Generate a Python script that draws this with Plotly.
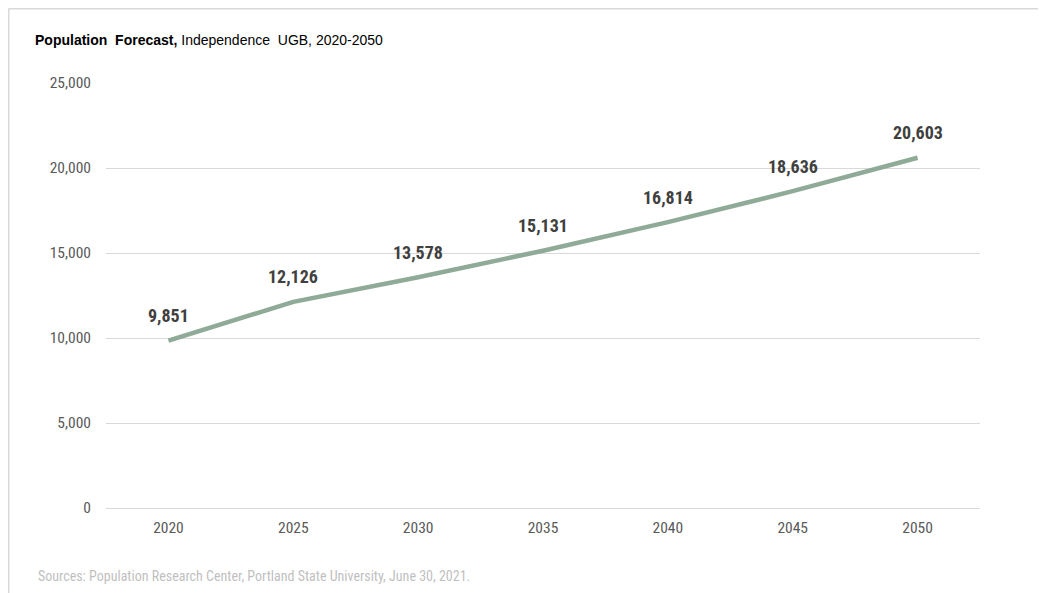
import plotly.graph_objects as go

years = [2020, 2025, 2030, 2035, 2040, 2045, 2050]
population = [9851, 12126, 13578, 15131, 16814, 18636, 20603]
y_ticks = [0, 5000, 10000, 15000, 20000, 25000]
y_tick_labels = ["0", "5,000", "10,000", "15,000", "20,000", "25,000"]

NARROW = "Liberation Sans Narrow, Arial Narrow, Roboto Condensed, Roboto, sans-serif"

# figure is placed 8px in from the page corner by the default body margin
W, H = 1038, 585
L, R, T, B = 98, 66, 75, 85
PW, PH = W - L - R, H - T - B


def px(x):
    return (x - L) / PW


def py(y):
    return (H - B - y) / PH


fig = go.Figure()
fig.add_trace(go.Scatter(
    x=years, y=population, mode="lines",
    line=dict(color="#8fab97", width=4.5),
    hoverinfo="skip", showlegend=False,
))

for xv, yv in zip(years, population):
    fig.add_annotation(
        x=xv, y=yv, text=f"<b>{yv:,}</b>", showarrow=False,
        yshift=25, font=dict(family=NARROW, size=18, color="#404040"),
    )

fig.update_xaxes(
    range=[2017.5, 2052.5], tickvals=years, ticktext=[str(y) for y in years],
    showgrid=False, zeroline=False, showline=False, ticks="",
    tickfont=dict(family=NARROW, size=15.5, color="#595959"),
    ticklabelstandoff=8,
)
fig.update_yaxes(
    range=[0, 25000], tickvals=y_ticks, ticktext=y_tick_labels,
    showgrid=True, gridcolor="#d9d9d9", gridwidth=1,
    zeroline=True, zerolinecolor="#d9d9d9", zerolinewidth=1,
    showline=False, ticks="",
    tickfont=dict(family=NARROW, size=15.5, color="#595959"),
    ticklabelstandoff=14,
)

# frame lines (left and top)
fig.add_shape(type="line", xref="paper", yref="paper",
              x0=px(0.5), x1=px(0.5), y0=py(0.5), y1=py(H + 5),
              line=dict(color="#d9d9d9", width=2))
fig.add_shape(type="line", xref="paper", yref="paper",
              x0=px(0.5), x1=px(W + 5), y0=py(0.5), y1=py(0.5),
              line=dict(color="#d9d9d9", width=2))

fig.add_annotation(
    xref="paper", yref="paper", x=px(25), y=py(32),
    xanchor="left", yanchor="middle", showarrow=False,
    text="<b>Population  Forecast,</b> Independence  UGB, 2020-2050",
    font=dict(family="Liberation Sans, Arial, sans-serif", size=14, color="#000000"),
)
fig.add_annotation(
    xref="paper", yref="paper", x=px(28), y=py(568),
    xanchor="left", yanchor="middle", showarrow=False,
    text="Sources: Population Research Center, Portland State University, June 30, 2021.",
    font=dict(family=NARROW, size=14, color="#bfbfbf"),
)

fig.update_layout(
    width=W, height=H,
    margin=dict(l=L, r=R, t=T, b=B),
    paper_bgcolor="white", plot_bgcolor="white",
)

fig.write_html("out.html")
